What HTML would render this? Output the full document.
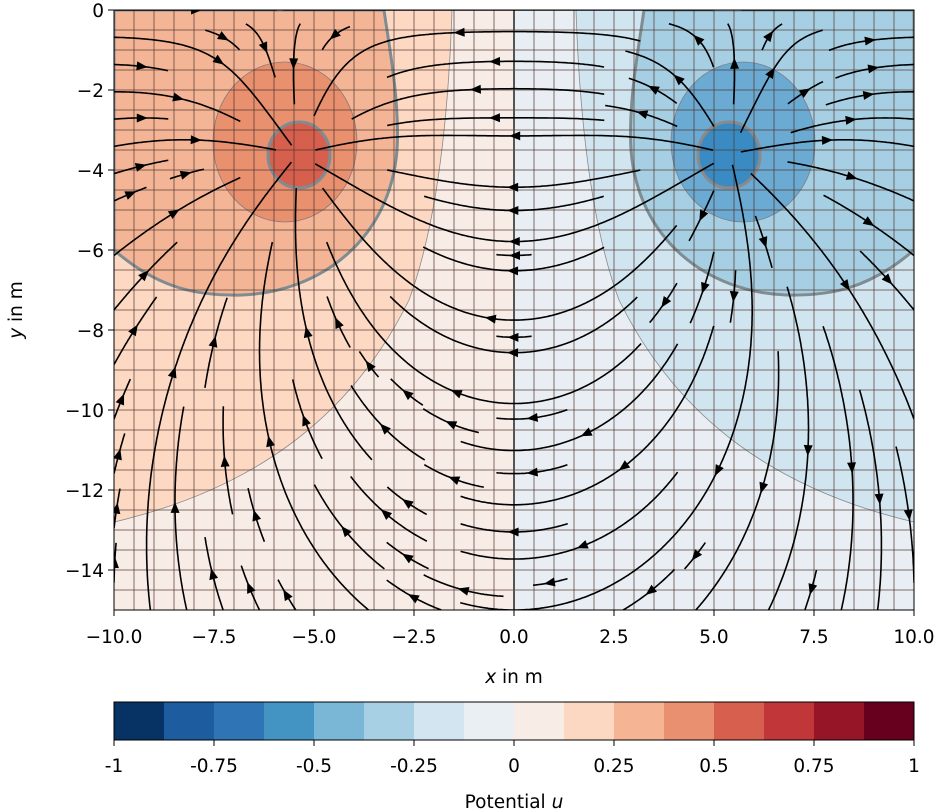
<!DOCTYPE html>
<html><head><meta charset="utf-8"><style>
body{margin:0;background:#fff;width:940px;height:812px;overflow:hidden}
svg{display:block;font-family:"DejaVu Sans","Liberation Sans",sans-serif}
</style></head><body>
<svg id="s" width="940" height="812" viewBox="0 0 940 812" xmlns="http://www.w3.org/2000/svg">
<defs><clipPath id="c"><rect x="114" y="10" width="800" height="600"/></clipPath>
<g id="half">
  <rect x="114" y="10" width="400" height="600" fill="#f8ece6"/>
  <path d="M114,10 L452,10 C448,130 435,230 409,300 C350,420 250,490 114,522 Z" fill="#fdd9c4" stroke="#8a8a8a" stroke-width="0.8"/>
  <path d="M114,250 C160,290 200,296 242,295 C320,292 390,240 397,150 C400,100 388,40 384,10 L114,10 Z" fill="#f4b596" stroke="#7f8c92" stroke-width="3"/>
  <ellipse cx="285" cy="142" rx="72" ry="80" fill="#e9906f" stroke="#8a7a78" stroke-width="0.8"/>
  <ellipse cx="299" cy="155" rx="31" ry="33" fill="#d6604d" stroke="#7f8c92" stroke-width="3"/>
</g>
<g id="halfR">
  <rect x="114" y="10" width="400" height="600" fill="#e8eef3"/>
  <path d="M114,10 L452,10 C448,130 435,230 409,300 C350,420 250,490 114,522 Z" fill="#d1e5f0" stroke="#8a8a8a" stroke-width="0.8"/>
  <path d="M114,250 C160,290 200,296 242,295 C320,292 390,240 397,150 C400,100 388,40 384,10 L114,10 Z" fill="#a6cfe4" stroke="#7f8c92" stroke-width="3"/>
  <ellipse cx="285" cy="142" rx="72" ry="80" fill="#6aaad3" stroke="#7a8088" stroke-width="0.8"/>
  <ellipse cx="299" cy="155" rx="31" ry="33" fill="#3a8ac4" stroke="#8a8a8a" stroke-width="3"/>
</g>
</defs>
<g clip-path="url(#c)">
  <use href="#half"/>
  <use href="#halfR" transform="translate(1028,0) scale(-1,1)"/>
  <g id="mesh" stroke="rgba(80,55,45,0.35)" stroke-width="2"></g>
  <line x1="514" y1="10" x2="514" y2="610" stroke="#555" stroke-width="2"/>
  <g id="stream" fill="none" stroke="#000" stroke-width="1.6"></g>
  <g id="arrows" fill="#000"></g>
</g>
<rect x="114" y="10" width="800" height="600" fill="none" stroke="#000" stroke-width="1"/>
<g id="axes" font-size="18.5" fill="#000"></g>
<text x="514" y="683" font-size="18.5" text-anchor="middle"><tspan font-style="italic">x</tspan> in m</text>
<text transform="translate(22,310) rotate(-90)" font-size="18.5" text-anchor="middle"><tspan font-style="italic">y</tspan> in m</text>
<g id="cbar"></g>
<text x="514" y="808" font-size="18.5" text-anchor="middle">Potential <tspan font-style="italic">u</tspan></text>
</svg>
<script>
var NS="http://www.w3.org/2000/svg";
function el(p,t,a,txt){var e=document.createElementNS(NS,t);for(var k in a)e.setAttribute(k,a[k]);if(txt!=null)e.textContent=txt;p.appendChild(e);return e;}
var mesh=document.getElementById('mesh');
for(var x=134;x<914;x+=20)el(mesh,'line',{x1:x,y1:10,x2:x,y2:610});
for(var y=30;y<610;y+=20)el(mesh,'line',{x1:114,y1:y,x2:914,y2:y});
var ax=document.getElementById('axes');
var xl=["−10.0","−7.5","−5.0","−2.5","0.0","2.5","5.0","7.5","10.0"];
for(var i=0;i<9;i++){var X=114+100*i;el(ax,'line',{x1:X,y1:610,x2:X,y2:616,stroke:'#000'});el(ax,'text',{x:X,y:643,'text-anchor':'middle'},xl[i]);}
for(var i=0;i<8;i++){var Y=10+80*i;el(ax,'line',{x1:108,y1:Y,x2:114,y2:Y,stroke:'#000'});el(ax,'text',{x:104,y:Y+7,'text-anchor':'end'},i==0?"0":"−"+(2*i));}
var cb=document.getElementById('cbar');
var cols=["#073264","#1c5c9f","#2f74b5","#4393c3","#7ab6d6","#a7d0e4","#d3e5f0","#eaeff3","#f8ece6","#fcd8c2","#f5b594","#e99071","#d6604d","#c13639","#961627","#67001f"];
for(var i=0;i<16;i++)el(cb,'rect',{x:114+50*i,y:702,width:50.5,height:38,fill:cols[i]});
el(cb,'rect',{x:114,y:702,width:800,height:38,fill:'none',stroke:'#000','stroke-width':1});
var cl=["-1","-0.75","-0.5","-0.25","0","0.25","0.5","0.75","1"];
for(var i=0;i<9;i++){var X=114+100*i;el(cb,'line',{x1:X,y1:740,x2:X,y2:746,stroke:'#000'});el(cb,'text',{x:X,y:772,'text-anchor':'middle','font-size':18.5},cl[i]);}
var SX=5.4,SY=-3.6;
function g(x,y,sx,sy,o){var dx=sx-x,dy=sy-y,r2=dx*dx+dy*dy,r3=r2*Math.sqrt(r2);o[0]+=dx/r3;o[1]+=dy/r3;}
function gn(x,y,s){var o=[0,0];g(x,y,-SX,SY,o);g(x,y,-SX,-SY,o);var p=[0,0];g(x,y,SX,SY,p);g(x,y,SX,-SY,p);var vx=o[0]-p[0],vy=o[1]-p[1];var n=Math.hypot(vx,vy);return [s*vx/n,s*vy/n];}
var N=23,mask=[];for(var i=0;i<N*N;i++)mask.push(0);
function cell(x,y){return [Math.round((x+10)/20*(N-1)),Math.round((y+15)/15*(N-1))];}
function near(x,y){return Math.hypot(x+SX,y-SY)<0.25||Math.hypot(x-SX,y-SY)<0.25;}
function trace(x,y,s,marks){var pts=[[x,y]],c=cell(x,y),h=0.04;
 for(var k=0;k<1500;k++){var a=gn(x,y,s);var mx=x+a[0]*h/2,my=y+a[1]*h/2;var b=gn(mx,my,s);var nx=x+b[0]*h,ny=y+b[1]*h;
  if(nx<-10||nx>10||ny<-15||ny>0)break;if(near(nx,ny))break;
  var cc=cell(nx,ny);if(cc[0]!=c[0]||cc[1]!=c[1]){var id=cc[1]*N+cc[0];if(mask[id])break;mask[id]=1;marks.push(id);c=cc;}
  x=nx;y=ny;pts.push([x,y]);}
 return pts;}
var sg=document.getElementById('stream'),ag=document.getElementById('arrows');
function P(p){return [114+(p[0]+10)*40,10-p[1]*40];}
var xf=0,yf=1,xla=N-1,yla=N-1,xi=0,yi=0,dir='r';
for(var it=0;it<N*N;it++){
 var id=yi*N+xi;
 if(!mask[id]){
  var x0=-10+20*xi/(N-1),y0=-15+15*yi/(N-1);
  if(!near(x0,y0)){
  mask[id]=1;var marks=[id];
  var bk=trace(x0,y0,-1,marks),fw=trace(x0,y0,1,marks);
  var pts=bk.reverse().concat(fw.slice(1));
  var L=0,cum=[0];for(var j=1;j<pts.length;j++){L+=Math.hypot(pts[j][0]-pts[j-1][0],pts[j][1]-pts[j-1][1]);cum.push(L);}
  if(L<0.8){for(var m of marks)mask[m]=0;}
  else{
   var d="";for(var j=0;j<pts.length;j++){var q=P(pts[j]);d+=(j?"L":"M")+q[0].toFixed(1)+","+q[1].toFixed(1);}
   el(sg,'path',{d:d});
   var mi=0;while(cum[mi]<L/2)mi++;
   var A=P(pts[Math.max(mi-1,0)]),B=P(pts[Math.min(mi+1,pts.length-1)]);
   var ux=B[0]-A[0],uy=B[1]-A[1],un=Math.hypot(ux,uy)||1;ux/=un;uy/=un;
   var tip=P(pts[mi]);var tx=tip[0]+ux*5,ty=tip[1]+uy*5,bx=tip[0]-ux*6,by=tip[1]-uy*6;
   el(ag,'path',{d:"M"+tx+","+ty+"L"+(bx-uy*4.5)+","+(by+ux*4.5)+"L"+(bx+uy*4.5)+","+(by-ux*4.5)+"Z"});
  }}
 }
 if(dir=='r'){xi++;if(xi>=xla){xla--;dir='u';}}
 else if(dir=='u'){yi++;if(yi>=yla){yla--;dir='l';}}
 else if(dir=='l'){xi--;if(xi<=xf){xf++;dir='d';}}
 else{yi--;if(yi<=yf){yf++;dir='r';}}
}
</script>
</body></html>
